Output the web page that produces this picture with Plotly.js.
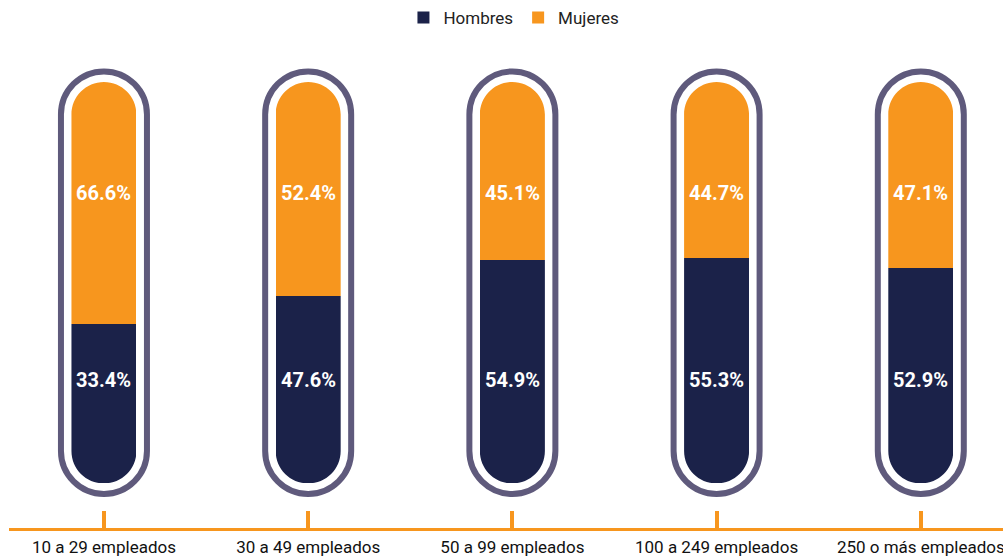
<!DOCTYPE html>
<html>
<head>
<meta charset="utf-8">
<script src="https://cdn.plot.ly/plotly-3.0.1.min.js"></script>
<style>html,body{margin:0;padding:0;background:#fff;}#chart{width:1003px;height:560px;}</style>
</head>
<body>
<div id="chart"></div>
<script>
// ---- data ----
const categories = ['10 a 29 empleados', '30 a 49 empleados', '50 a 99 empleados', '100 a 249 empleados', '250 o más empleados'];
// bar lengths as drawn in the reference (percent of the full capsule)
const hombres = [39.7, 46.6, 55.6, 56.1, 53.6];
const mujeres = [60.3, 53.4, 44.4, 43.9, 46.4];
// printed labels
const hombresLabels = ['33.4%', '47.6%', '54.9%', '55.3%', '52.9%'];
const mujeresLabels = ['66.6%', '52.4%', '45.1%', '44.7%', '47.1%'];

// ---- styling ----
const NAVY = '#1b2249';
const ORANGE = '#f7961e';
const OUTLINE = '#5f5a7c';
const FONT = 'Roboto, "Open Sans", sans-serif';
const BAR_W = 0.3183;
const LABEL_Y_H = 25.7, LABEL_Y_M = 72.3;

function capsule(a, h) {
  const r = a, c = h - r, k = 0.5523 * r;
  return `M${-a},${-c} L${-a},${c} C${-a},${c + k} ${-k},${h} 0,${h} ` +
         `C${k},${h} ${a},${c + k} ${a},${c} L${a},${-c} ` +
         `C${a},${-c - k} ${k},${-h} 0,${-h} C${-k},${-h} ${-a},${-c - k} ${-a},${-c} Z`;
}
function rect(a, h) {
  return `M${-a},${-h} L${a},${-h} L${a},${h} L${-a},${h} Z`;
}

const idx = categories.map((_, i) => i);

const traces = [
  {type: 'bar', name: 'Hombres', x: idx, y: hombres, width: BAR_W,
   marker: {color: NAVY, line: {width: 0}}, hoverinfo: 'skip'},
  {type: 'bar', name: 'Mujeres', x: idx, y: mujeres, width: BAR_W,
   marker: {color: ORANGE, line: {width: 0}}, hoverinfo: 'skip'}
];

const shapes = [];
idx.forEach(i => {
  shapes.push({type: 'path', layer: 'above', xref: 'x', yref: 'y',
    xsizemode: 'pixel', ysizemode: 'pixel', xanchor: i, yanchor: 50,
    path: rect(40, 208) + ' ' + capsule(32.5, 200.8),
    fillrule: 'evenodd', fillcolor: '#ffffff', line: {width: 0}});
  shapes.push({type: 'path', layer: 'above', xref: 'x', yref: 'y',
    xsizemode: 'pixel', ysizemode: 'pixel', xanchor: i, yanchor: 50,
    path: capsule(43, 211.3), fillcolor: 'rgba(0,0,0,0)',
    line: {color: OUTLINE, width: 6}});
});

const annotations = [];
idx.forEach(i => {
  annotations.push({x: i, y: LABEL_Y_H, xref: 'x', yref: 'y', text: hombresLabels[i],
    showarrow: false, font: {family: FONT, size: 20, color: '#ffffff', weight: 'bold'}});
  annotations.push({x: i, y: LABEL_Y_M, xref: 'x', yref: 'y', text: mujeresLabels[i],
    showarrow: false, font: {family: FONT, size: 20, color: '#ffffff', weight: 'bold'}});
});

const layout = {
  width: 1003, height: 560,
  margin: {l: 9, r: 0, t: 61.6, b: 32},
  paper_bgcolor: '#ffffff', plot_bgcolor: '#ffffff',
  font: {family: FONT, color: '#111111'},
  barmode: 'stack',
  showlegend: true,
  legend: {orientation: 'h', x: 0.508, xanchor: 'center', yref: 'container', y: 0.968, yanchor: 'middle',
           traceorder: 'normal', font: {family: FONT, size: 17, color: '#222222'}},
  xaxis: {type: 'linear', range: [-0.465, 4.4025], tickvals: idx, ticktext: categories,
          showgrid: false, zeroline: false, showline: true, linecolor: ORANGE, linewidth: 3,
          ticks: 'inside', ticklen: 17, tickwidth: 4, tickcolor: ORANGE,
          ticklabelstandoff: 2, ticklabeloverflow: 'allow',
          tickfont: {family: FONT, size: 17, color: '#111111'}, fixedrange: true},
  yaxis: {range: [-11.13, 105], visible: false, showgrid: false, zeroline: false, fixedrange: true},
  shapes: shapes,
  annotations: annotations
};

Plotly.newPlot('chart', traces, layout, {displayModeBar: false, staticPlot: true});
</script>
</body>
</html>
